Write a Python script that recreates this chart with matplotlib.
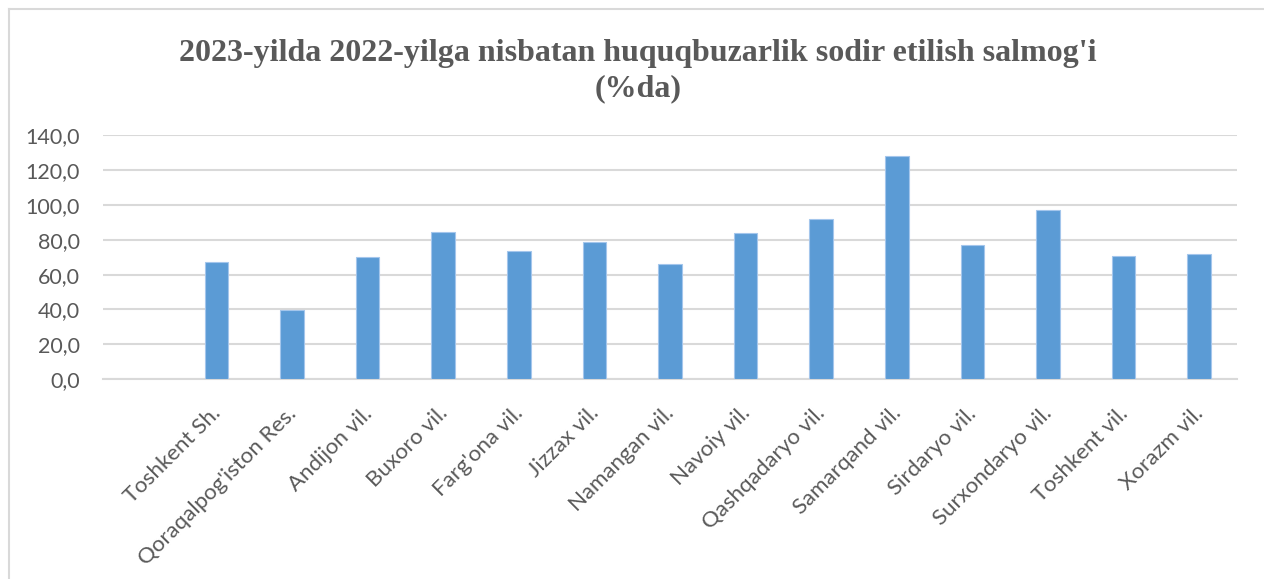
import matplotlib.pyplot as plt
import matplotlib.transforms as mtransforms
from matplotlib.lines import Line2D
import numpy as np

# Ma'lumotlar
hududlar = ["", "Toshkent Sh.", "Qoraqalpog'iston Res.", "Andijon vil.", "Buxoro vil.",
            "Farg'ona vil.", "Jizzax vil.", "Namangan vil.", "Navoiy vil.",
            "Qashqadaryo vil.", "Samarqand vil.", "Sirdaryo vil.", "Surxondaryo vil.",
            "Toshkent vil.", "Xorazm vil."]
salmoq = [np.nan, 67.1, 39.9, 69.8, 84.5, 73.6, 78.4, 66.0, 83.8, 92.0, 128.1,
          77.1, 97.0, 70.7, 71.7]
y_ticks = [0, 20, 40, 60, 80, 100, 120, 140]

sarlavha = "2023-yilda 2022-yilga nisbatan huquqbuzarlik sodir etilish salmog'i\n(%da)"

matn_rangi = "#595959"
chiziq_rangi = "#d9d9d9"

fig = plt.figure(figsize=(12.64, 5.79), dpi=100)
ax = fig.add_axes([103 / 1264, 1 - 379.3 / 579, (1237 - 103) / 1264, (379.3 - 135) / 579])

x = np.arange(len(hududlar))
ax.bar(x, salmoq, width=0.31, color="#5b9bd5", edgecolor="#a4c6ec", linewidth=0.8, zorder=3)

ax.set_xlim(-0.5, len(hududlar) - 0.5)
ax.set_ylim(0, 140)
ax.set_yticks(y_ticks)
ax.set_yticklabels([f"{v:.1f}".replace(".", ",") for v in y_ticks])
ax.set_xticks(x)
ax.set_xticklabels(hududlar)

ax.grid(axis="y", color=chiziq_rangi, linewidth=1.5, zorder=0)
for s in ["top", "right", "left"]:
    ax.spines[s].set_visible(False)
ax.spines["bottom"].set_color(chiziq_rangi)
ax.spines["bottom"].set_linewidth(1.5)

ax.tick_params(axis="both", length=0, colors=matn_rangi)
ax.tick_params(axis="y", pad=16.5, labelsize=15.5)
ax.tick_params(axis="x", pad=0, labelsize=16)

siljish = mtransforms.ScaledTranslation(1 / 100, -31 / 100, fig.dpi_scale_trans)
for lbl in ax.get_xticklabels():
    lbl.set_rotation(45)
    lbl.set_ha("right")
    lbl.set_va("center")
    lbl.set_rotation_mode("anchor")
    lbl.set_fontfamily("Lato")
    lbl.set_transform(lbl.get_transform() + siljish)
for lbl in ax.get_yticklabels():
    lbl.set_fontfamily("Lato")

fig.text(638 / 1264, 1 - 71 / 579, sarlavha, ha="center", va="center",
         fontsize=23, fontweight="bold", family="Liberation Serif",
         color=matn_rangi, linespacing=1.25)

# Diagramma ramkasi
fig.add_artist(Line2D([8.5 / 1264, 1], [1 - 8.5 / 579, 1 - 8.5 / 579],
                      transform=fig.transFigure, color=chiziq_rangi, linewidth=1.5))
fig.add_artist(Line2D([8.5 / 1264, 8.5 / 1264], [0, 1 - 8.5 / 579],
                      transform=fig.transFigure, color=chiziq_rangi, linewidth=1.5))

plt.savefig("out.png", dpi=100)
